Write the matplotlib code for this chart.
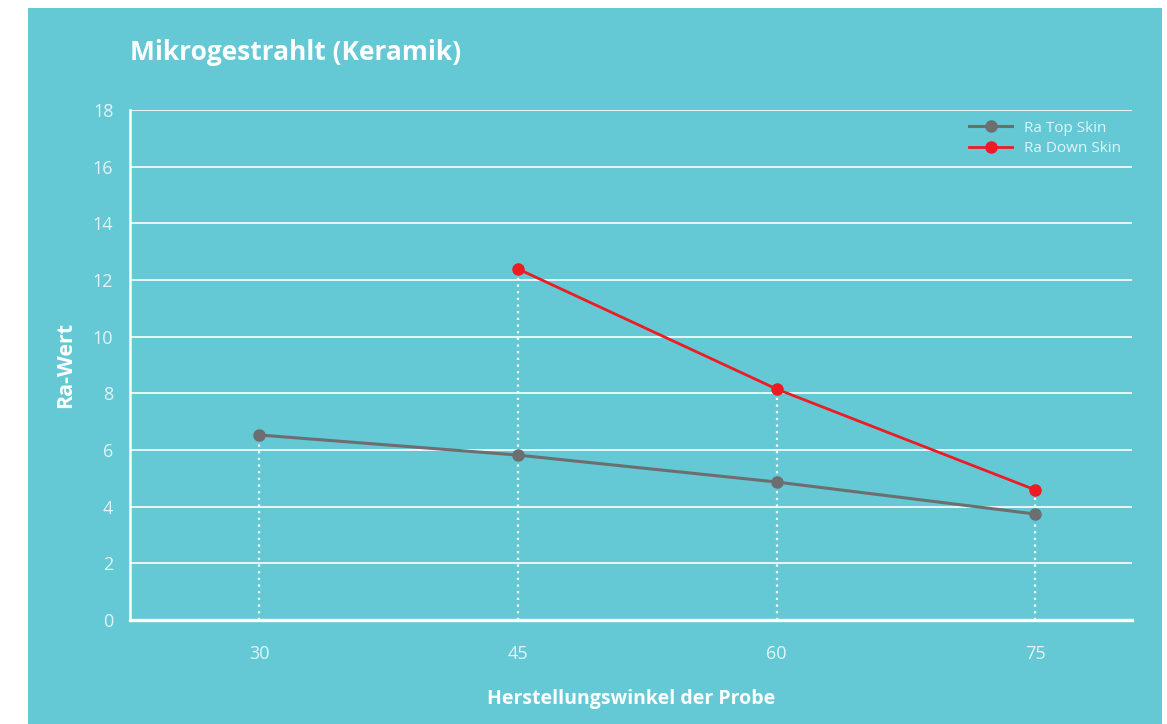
import matplotlib
matplotlib.use("Agg")
import matplotlib.pyplot as plt
from matplotlib.patches import Rectangle

angles = [30, 45, 60, 75]
top_skin = [6.53, 5.82, 4.87, 3.74]
down_angles = [45, 60, 75]
down_skin = [12.39, 8.15, 4.59]
yticks = [0, 2, 4, 6, 8, 10, 12, 14, 16, 18]

TEAL = "#64C8D5"
GRAY = "#6D6E70"
RED = "#ED1C24"
LABEL = "#E3F5F8"

plt.rcParams['font.family'] = ['Open Sans', 'DejaVu Sans']

W, H = 1167, 724
fig = plt.figure(figsize=(W/100, H/100), dpi=100, facecolor="white")
fig.patches.append(Rectangle((28/W, 0), (1162-28)/W, (H-8)/H, transform=fig.transFigure,
                             facecolor=TEAL, edgecolor="none", zorder=-10))

ax = fig.add_axes([130/W, 1-620/H, (1132-130)/W, (620-110)/H])
ax.set_facecolor("none")
ax.set_xlim(22.5, 80.6)
ax.set_ylim(0, 18)

for y in yticks[1:]:
    ax.axhline(y, color="white", lw=1.2, zorder=1)
ax.axhline(0, color="white", lw=2.4, zorder=3, clip_on=False)

for s in ["top", "right", "bottom"]:
    ax.spines[s].set_visible(False)
ax.spines["left"].set_color("white")
ax.spines["left"].set_linewidth(1.8)

# dotted droplines
maxvals = {}
for a, v in zip(angles, top_skin):
    maxvals[a] = v
for a, v in zip(down_angles, down_skin):
    maxvals[a] = max(maxvals.get(a, 0), v)
for a in angles:
    ax.plot([a, a], [0, maxvals[a]], color="white", lw=1.6, linestyle=(0, (1, 2)), zorder=2)

ax.plot(angles, top_skin, color=GRAY, lw=2.2, marker="o", ms=8, zorder=5, label="Ra Top Skin")
ax.plot(down_angles, down_skin, color=RED, lw=2.0, marker="o", ms=8, zorder=5, label="Ra Down Skin")

ax.set_xticks(angles)
ax.set_xticklabels([str(a) for a in angles])
ax.set_yticks(yticks)
ax.tick_params(axis="both", colors=LABEL, labelsize=13, length=0)
ax.tick_params(axis="y", pad=12)
ax.tick_params(axis="x", pad=18)
for lab in ax.get_xticklabels() + ax.get_yticklabels():
    lab.set_color(LABEL)

ax.set_ylabel("Ra-Wert", color="white", fontsize=15.5, fontweight="bold", labelpad=12)
fig.text(631/W, 1-699/H, "Herstellungswinkel der Probe", color="white", fontsize=14,
         fontweight="bold", ha="center", va="center")
fig.text(130/W, 1-52/H, "Mikrogestrahlt (Keramik)", color="white", fontsize=19,
         fontweight="bold", ha="left", va="center")

leg = ax.legend(loc="upper right", bbox_to_anchor=(1.0, 1.0), frameon=False,
                fontsize=11, handlelength=2.8, labelspacing=0.35, borderaxespad=0.3)
for t in leg.get_texts():
    t.set_color(LABEL)

fig.savefig("out.png", dpi=100, facecolor="white")
